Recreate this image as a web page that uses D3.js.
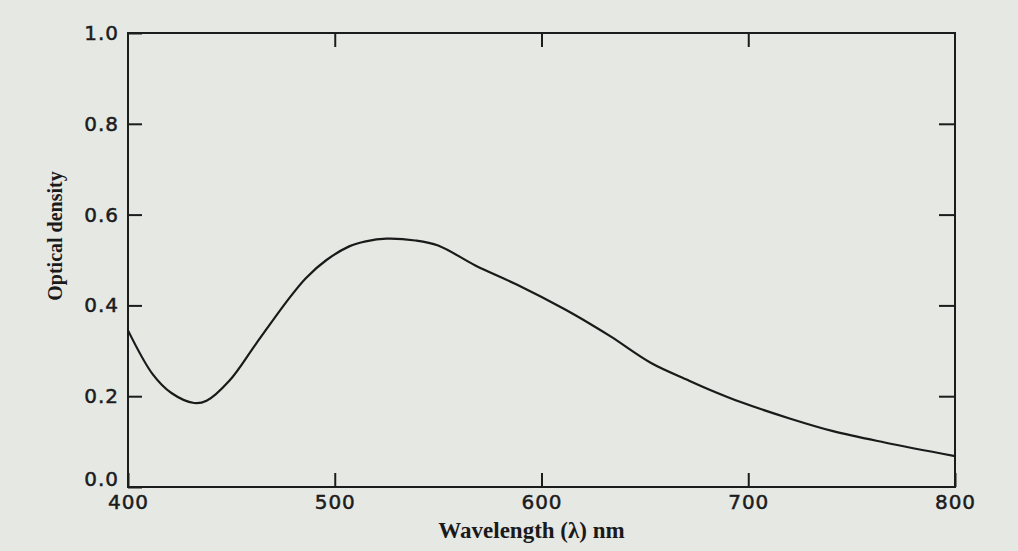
<!DOCTYPE html>
<html>
<head>
<meta charset="utf-8">
<script src="https://cdn.jsdelivr.net/npm/d3@7/dist/d3.min.js"></script>
<style>
  html, body { margin: 0; padding: 0; background: #e6e8e4; }
  svg { display: block; }
  .tick line { stroke: #1c1c1c; stroke-width: 2; }
  .axis-title { font-family: "Liberation Serif", "Times New Roman", serif; font-weight: bold; fill: #1a1a1a; }
</style>
</head>
<body>
<svg id="chart" width="1018" height="551"></svg>
<script>
// values
const wavelength = [400, 412, 421, 432, 438, 449, 462, 477, 486, 496, 507, 515, 525, 539, 550,
                    568, 588, 611, 624, 634, 653, 671, 681, 697, 720, 741, 766, 800];
const density = [0.345, 0.248, 0.207, 0.185, 0.19, 0.234, 0.316, 0.41, 0.46, 0.50, 0.53, 0.541, 0.547, 0.543, 0.532,
                 0.488, 0.446, 0.392, 0.358, 0.33, 0.273, 0.235, 0.215, 0.186, 0.151, 0.123, 0.098, 0.068];
const xTicks = [400, 500, 600, 700, 800];
const yTicks = [0.0, 0.2, 0.4, 0.6, 0.8, 1.0];
const innerXTicks = [500, 600, 700];
const innerYTicks = [0.2, 0.4, 0.6, 0.8];

const margin = { left: 128, right: 63, top: 33, bottom: 64 };
const width = 1018, height = 551;

const svg = d3.select('#chart');

const x = d3.scaleLinear().domain([400, 800]).range([margin.left, width - margin.right]);
const y = d3.scaleLinear().domain([0, 1]).range([height - margin.bottom, margin.top]);

const tickLen = 14;

function styleLabels(g, size) {
    g.selectAll('.tick text')
        .style('font-family', '"DejaVu Sans", sans-serif')
        .style('font-size', size + 'px')
        .style('letter-spacing', '1px')
        .style('fill', '#1c1c1c')
        .style('stroke', '#1c1c1c')
        .style('stroke-width', '0.5px');
}

// bottom axis: inward ticks + labels
svg.append('g')
    .attr('transform', `translate(0,${y(0)})`)
    .call(d3.axisBottom(x).tickValues(xTicks).tickSize(-tickLen).tickSizeOuter(0).tickPadding(8).tickFormat(d3.format('d')))
    .call(g => g.select('.domain').remove())
    .call(g => styleLabels(g, 20));

// left axis
svg.append('g')
    .attr('transform', `translate(${x(400)},0)`)
    .call(d3.axisLeft(y).tickValues(yTicks).tickSize(-tickLen).tickSizeOuter(0).tickPadding(9).tickFormat(d3.format('.1f')))
    .call(g => g.select('.domain').remove())
    .call(g => styleLabels(g, 20))
    .call(g => g.selectAll('.tick').filter(d => d === 0).select('text').attr('dy', '-0.1em'));

// top and right: ticks only
svg.append('g')
    .attr('transform', `translate(0,${y(1)})`)
    .call(d3.axisTop(x).tickValues(innerXTicks).tickSize(-tickLen).tickSizeOuter(0).tickFormat(''))
    .call(g => g.select('.domain').remove());

svg.append('g')
    .attr('transform', `translate(${x(800)},0)`)
    .call(d3.axisRight(y).tickValues(innerYTicks).tickSize(-16).tickSizeOuter(0).tickFormat(''))
    .call(g => g.select('.domain').remove());

// frame
svg.append('rect')
    .attr('x', x(400)).attr('y', y(1))
    .attr('width', x(800) - x(400)).attr('height', y(0) - y(1))
    .attr('fill', 'none').attr('stroke', '#1c1c1c').attr('stroke-width', 2);

// curve
const pts = wavelength.map((w, i) => [w, density[i]]);
const line = d3.line()
    .x(d => x(d[0]))
    .y(d => y(d[1]))
    .curve(d3.curveCatmullRom.alpha(0.5));

svg.append('path')
    .datum(pts)
    .attr('d', line)
    .attr('fill', 'none')
    .attr('stroke', '#1a1a1a')
    .attr('stroke-width', 2.2);

// axis titles
svg.append('text')
    .attr('class', 'axis-title')
    .attr('x', (x(400) + x(800)) / 2 - 10)
    .attr('y', 538)
    .attr('text-anchor', 'middle')
    .attr('font-size', 23)
    .text('Wavelength (λ) nm');

svg.append('text')
    .attr('class', 'axis-title')
    .attr('transform', `translate(62,${(y(0) + y(1)) / 2 - 24}) rotate(-90)`)
    .attr('text-anchor', 'middle')
    .attr('font-size', 20)
    .text('Optical density');
</script>
</body>
</html>
